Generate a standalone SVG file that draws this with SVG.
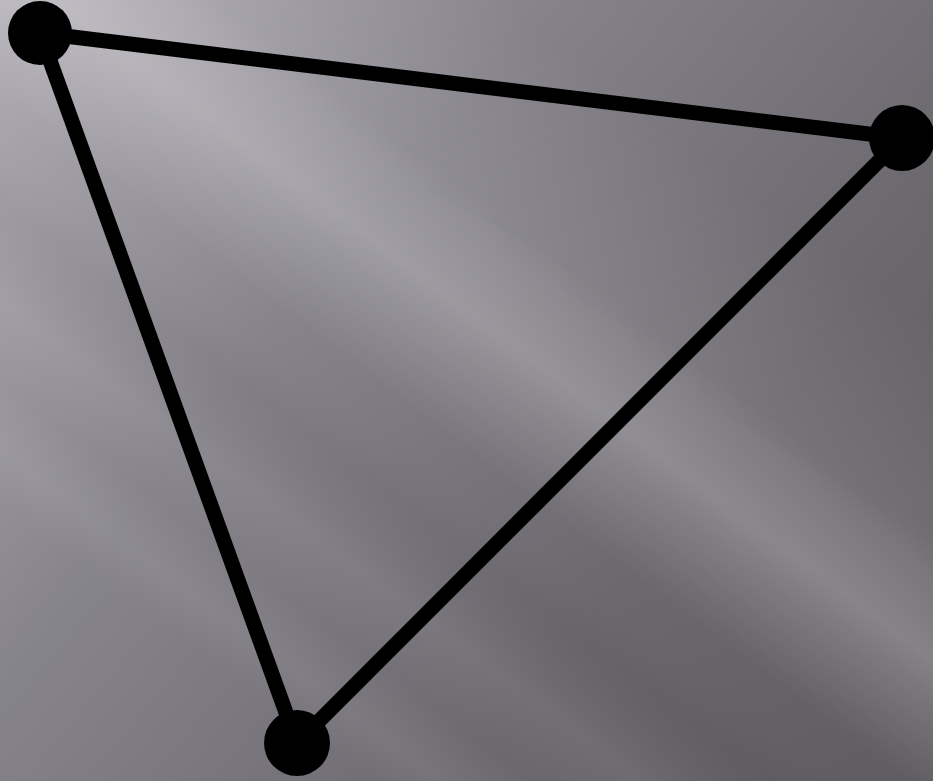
<svg xmlns="http://www.w3.org/2000/svg" width="933" height="781" viewBox="0 0 933 781">
<defs>
<linearGradient id="base" gradientUnits="userSpaceOnUse" x1="0" y1="0" x2="933" y2="781">
<stop offset="0" stop-color="#b0acb4"/>
<stop offset="0.35" stop-color="#85828a"/>
<stop offset="0.7" stop-color="#6a676d"/>
<stop offset="1" stop-color="#5d5a60"/>
</linearGradient>
<linearGradient id="band" gradientUnits="userSpaceOnUse" x1="800" y1="100" x2="320" y2="740">
<stop offset="0" stop-color="#ffffff" stop-opacity="0"/>
<stop offset="0.34" stop-color="#ffffff" stop-opacity="0"/>
<stop offset="0.46" stop-color="#ffffff" stop-opacity="0.18"/>
<stop offset="0.5" stop-color="#ffffff" stop-opacity="0.12"/>
<stop offset="0.6" stop-color="#ffffff" stop-opacity="0"/>
<stop offset="0.7" stop-color="#000000" stop-opacity="0.03"/>
<stop offset="0.8" stop-color="#ffffff" stop-opacity="0.06"/>
<stop offset="0.88" stop-color="#ffffff" stop-opacity="0.01"/>
<stop offset="0.95" stop-color="#ffffff" stop-opacity="0.08"/>
<stop offset="1" stop-color="#ffffff" stop-opacity="0.02"/>
</linearGradient>
<linearGradient id="band2" gradientUnits="userSpaceOnUse" x1="500" y1="0" x2="20" y2="640">
<stop offset="0" stop-color="#ffffff" stop-opacity="0"/>
<stop offset="0.25" stop-color="#ffffff" stop-opacity="0.1"/>
<stop offset="0.4" stop-color="#ffffff" stop-opacity="0.04"/>
<stop offset="0.5" stop-color="#ffffff" stop-opacity="0"/>
</linearGradient>
</defs>
<style>
.edge{stroke:#000;stroke-width:15;fill:none}
.node{fill:#000}
</style>
<rect width="933" height="781" fill="url(#base)"/>
<rect width="933" height="781" fill="url(#band)"/>
<rect width="933" height="781" fill="url(#band2)"/>
<g id="connectors">
<line class="edge" x1="40" y1="33" x2="902" y2="138"/>
<line class="edge" x1="40" y1="33" x2="297" y2="743"/>
<line class="edge" x1="902" y1="138" x2="297" y2="743"/>
</g>
<g id="node-a"><circle class="node" cx="40" cy="33" r="32"/></g>
<g id="node-b"><circle class="node" cx="902" cy="138" r="33"/></g>
<g id="node-c"><circle class="node" cx="297" cy="743" r="33"/></g>
</svg>
